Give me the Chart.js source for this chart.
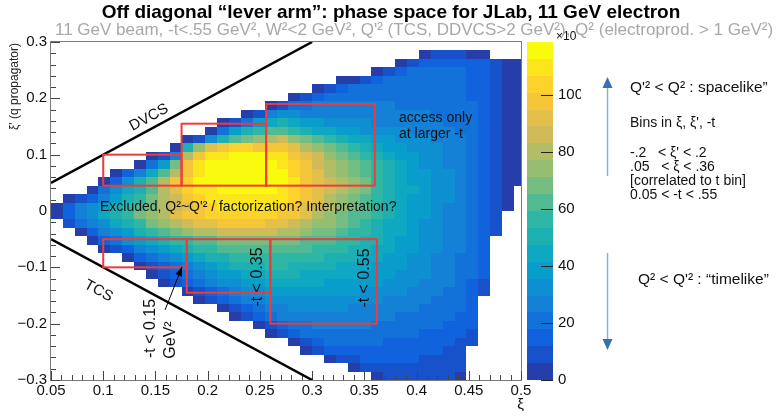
<!DOCTYPE html>
<html>
<head>
<meta charset="utf-8">
<script src="https://cdn.jsdelivr.net/npm/chart.js@4.4.1/dist/chart.umd.min.js"></script>
<style>
  html, body { margin: 0; padding: 0; background: #fff; }
  #wrap { width: 780px; height: 417px; }
</style>
</head>
<body>
<div id="wrap"><canvas id="phase" width="780" height="417"></canvas></div>
<script>
// histogram binning (xi along x, xi' along y, first row is the top one)
const xiStart = 0.05;
const xiStep = 0.5 / 44;
const xiPrimeTop = 0.3;
const xiPrimeStep = 0.015;

// counts per cell (x10 units), rows from xi' = 0.3 downwards, 0 = empty
const counts = [
  [0,0,0,0,0,0,0,0,0,0, 0,0,0,0,0,0,0,0,0,0, 0,0,0,0,0,0,0,0,0,0, 0,0,0,0,0,0,0,0,0,0],
  [0,0,0,0,0,0,0,0,0,0, 0,0,0,0,0,0,0,0,0,0, 0,0,0,0,0,0,0,0,0,0, 0,5,6,6,6,5,5,0,0,0],
  [0,0,0,0,0,0,0,0,0,0, 0,0,0,0,0,0,0,0,0,0, 0,0,0,0,0,0,0,0,0,5, 6,12,16,17,17,16,13,6,5,4],
  [0,0,0,0,0,0,0,0,0,0, 0,0,0,0,0,0,0,0,0,0, 0,0,0,0,0,0,0,5,6,14, 18,19,19,19,18,17,13,6,5,4],
  [0,0,0,0,0,0,0,0,0,0, 0,0,0,0,0,0,0,0,0,0, 0,0,0,0,5,5,6,14,18,20, 20,20,20,19,19,17,13,6,5,4],
  [0,0,0,0,0,0,0,0,0,0, 0,0,0,0,0,0,0,0,0,0, 0,0,5,6,14,18,20,21,21,21, 21,21,20,20,19,17,13,6,5,4],
  [0,0,0,0,0,0,0,0,0,0, 0,0,0,0,0,0,0,0,0,0, 5,6,15,19,21,22,22,22,22,22, 22,21,21,20,19,17,13,6,5,4],
  [0,0,0,0,0,0,0,0,0,0, 0,0,0,0,0,0,0,0,5,8, 18,23,24,25,25,25,24,24,24,23, 23,22,22,21,20,18,13,6,5,4],
  [0,0,0,0,0,0,0,0,0,0, 0,0,0,0,0,0,5,8,24,30, 30,29,28,28,28,27,27,26,26,25, 25,24,23,22,21,19,14,7,5,4],
  [0,0,0,0,0,0,0,0,0,0, 0,0,0,0,5,8,20,36,46,50, 44,40,36,34,32,31,30,29,28,27, 26,25,24,23,22,19,14,7,5,4],
  [0,0,0,0,0,0,0,0,0,0, 0,0,0,5,20,38,52,58,62,64, 58,52,46,42,38,36,34,32,31,30, 28,27,26,24,23,20,14,7,5,4],
  [0,0,0,0,0,0,0,0,0,0, 0,5,10,30,50,64,70,76,82,84, 76,68,60,54,48,45,42,38,36,33, 31,30,28,26,24,21,15,7,5,4],
  [0,0,0,0,0,0,0,0,0,0, 5,48,76,94,100,102,102,100,98,98, 90,82,74,66,60,55,50,45,41,37, 34,32,30,27,25,22,15,7,5,4],
  [0,0,0,0,0,0,0,0,5,6, 24,78,100,110,112,114,114,114,112,110, 100,92,84,76,68,62,57,51,46,41, 37,34,31,28,26,22,15,7,5,4],
  [0,0,0,0,0,0,0,5,20,40, 66,96,108,114,116,117,117,116,115,112, 104,96,88,80,72,66,60,54,48,43, 39,35,32,29,26,22,15,7,5,4],
  [0,0,0,0,0,5,12,24,46,64, 82,100,110,115,117,118,118,117,116,113, 106,98,90,83,76,70,64,57,50,45, 40,36,33,30,27,22,15,7,5,4],
  [0,0,0,0,5,16,34,50,64,80, 96,106,113,116,118,118,118,117,116,113, 107,100,92,85,78,72,66,59,52,46, 41,37,34,31,27,23,15,7,5,4],
  [0,0,0,5,18,30,42,52,64,78, 90,102,108,112,114,115,115,114,113,110, 105,99,92,85,78,72,66,59,53,47, 42,38,34,31,27,23,15,7,5,0],
  [0,5,6,16,28,40,50,58,68,78, 88,98,104,108,111,112,112,112,110,107, 102,96,89,83,76,70,64,58,52,46, 41,37,33,30,26,22,15,7,5,0],
  [5,14,24,32,40,48,56,62,70,78, 86,94,100,104,108,110,110,110,108,104, 98,92,86,80,74,68,62,56,50,45, 40,36,32,29,25,21,15,7,5,0],
  [5,16,24,34,42,50,58,66,74,82, 90,96,100,103,105,106,106,105,103,100, 95,89,83,77,71,65,60,55,49,44, 40,36,32,29,25,21,15,7,0,0],
  [0,6,18,26,34,42,50,58,66,72, 78,84,90,94,96,97,97,96,94,91, 87,82,77,72,67,62,57,52,47,43, 39,35,31,28,25,21,15,6,0,0],
  [0,0,5,16,24,32,40,48,55,62, 68,74,78,82,85,86,86,85,84,82, 78,74,70,66,62,58,54,50,46,42, 38,34,31,28,25,21,14,6,0,0],
  [0,0,0,5,14,22,30,36,42,48, 54,58,62,64,66,68,69,70,70,69, 67,65,62,60,57,54,51,48,44,41, 37,34,31,28,25,20,14,0,0,0],
  [0,0,0,0,5,8,16,24,30,36, 42,48,54,58,61,63,64,65,65,65, 63,61,59,57,54,51,48,45,42,39, 36,33,30,27,24,19,13,0,0,0],
  [0,0,0,0,0,0,5,12,18,24, 30,36,42,48,52,55,57,58,59,59, 58,57,55,53,51,48,46,43,40,37, 34,32,29,26,23,19,13,0,0,0],
  [0,0,0,0,0,0,0,5,10,16, 22,28,34,40,44,48,51,53,54,54, 53,52,50,49,47,45,43,41,38,36, 33,31,28,26,23,18,12,0,0,0],
  [0,0,0,0,0,0,0,0,5,10, 16,22,28,32,36,40,44,46,48,49, 48,47,46,45,44,42,41,39,37,35, 32,30,28,25,22,18,12,0,0,0],
  [0,0,0,0,0,0,0,0,0,5, 7,14,20,26,30,34,38,40,42,43, 43,42,42,41,40,39,38,36,34,32, 30,28,26,24,21,17,11,0,0,0],
  [0,0,0,0,0,0,0,0,0,0, 0,5,10,16,22,26,30,34,37,38, 39,39,38,38,37,36,35,34,32,30, 28,26,25,23,20,16,10,0,0,0],
  [0,0,0,0,0,0,0,0,0,0, 0,0,5,7,14,20,24,28,31,33, 34,34,34,33,33,32,31,30,29,27, 26,24,23,21,19,15,0,0,0,0],
  [0,0,0,0,0,0,0,0,0,0, 0,0,0,0,5,10,16,22,26,28, 30,30,30,30,30,29,29,28,27,25, 24,23,21,20,18,14,0,0,0,0],
  [0,0,0,0,0,0,0,0,0,0, 0,0,0,0,0,5,7,14,20,24, 26,27,27,27,27,26,26,25,24,23, 22,21,20,18,16,13,0,0,0,0],
  [0,0,0,0,0,0,0,0,0,0, 0,0,0,0,0,0,0,5,10,16, 20,23,24,25,25,24,24,23,22,21, 20,19,18,16,15,12,0,0,0,0],
  [0,0,0,0,0,0,0,0,0,0, 0,0,0,0,0,0,0,0,5,6, 14,18,20,21,21,21,21,20,20,19, 18,17,16,15,13,10,0,0,0,0],
  [0,0,0,0,0,0,0,0,0,0, 0,0,0,0,0,0,0,0,0,0, 5,10,16,18,18,18,18,18,17,17, 16,15,14,13,11,7,0,0,0,0],
  [0,0,0,0,0,0,0,0,0,0, 0,0,0,0,0,0,0,0,0,0, 0,5,6,12,15,16,16,16,15,15, 14,13,12,11,9,0,0,0,0,0],
  [0,0,0,0,0,0,0,0,0,0, 0,0,0,0,0,0,0,0,0,0, 0,0,0,5,6,11,13,13,13,13, 12,11,10,9,7,0,0,0,0,0],
  [0,0,0,0,0,0,0,0,0,0, 0,0,0,0,0,0,0,0,0,0, 0,0,0,0,0,5,6,10,11,11, 10,10,9,7,6,0,0,0,0,0],
  [0,0,0,0,0,0,0,0,0,0, 0,0,0,0,0,0,0,0,0,0, 0,0,0,0,0,0,0,5,7,8, 8,8,7,6,5,0,0,0,0,0]
];

const xTicks = [0.05, 0.1, 0.15, 0.2, 0.25, 0.3, 0.35, 0.4, 0.45, 0.5];
const xTickLabels = ['0.05', '0.1', '0.15', '0.2', '0.25', '0.3', '0.35', '0.4', '0.45', '0.5'];
const yTicks = [-0.3, -0.2, -0.1, 0, 0.1, 0.2, 0.3];
const yTickLabels = ['\u22120.3', '\u22120.2', '\u22120.1', '0', '0.1', '0.2', '0.3'];
const zTicks = [0, 20, 40, 60, 80, 100];
const zMax = 118.6;

// t-bin boxes [xiMin, xiMax, xi'Min, xi'Max]
const spacelikeBins = [[0.1, 0.175, 0.045, 0.1], [0.175, 0.256, 0.045, 0.155], [0.256, 0.36, 0.045, 0.19]];
const timelikeBins = [[0.1, 0.18, -0.1, -0.05], [0.18, 0.26, -0.145, -0.05], [0.26, 0.362, -0.2, -0.05]];
const dvcsLine = [[0.05, 0.05], [0.3, 0.3]];
const tcsLine = [[0.05, -0.05], [0.3, -0.3]];

const birdStops = [[53,42,135],[15,92,221],[20,129,214],[6,164,202],[46,183,164],[135,191,119],[209,187,89],[254,200,50],[249,251,14]];
function birdColor(t) {
  const s = Math.max(0, Math.min(1, t)) * 8;
  const i = Math.min(7, Math.floor(s));
  const f = s - i;
  const a = birdStops[i], b = birdStops[i + 1];
  return 'rgb(' + a.map((c, n) => Math.round(c + (b[n] - c) * f)).join(',') + ')';
}
function levelColor(v) {
  const lvl = Math.min(19, Math.floor(v / zMax * 20));
  return birdColor((lvl + 0.99) / 20);
}

const FONT = "'Liberation Sans', Arial, sans-serif";

function arrowHead(ctx, x0, y0, x1, y1, len, half) {
  const ang = Math.atan2(y1 - y0, x1 - x0);
  ctx.beginPath();
  ctx.moveTo(x1, y1);
  ctx.lineTo(x1 - len * Math.cos(ang) + half * Math.sin(ang), y1 - len * Math.sin(ang) - half * Math.cos(ang));
  ctx.lineTo(x1 - len * Math.cos(ang) - half * Math.sin(ang), y1 - len * Math.sin(ang) + half * Math.cos(ang));
  ctx.closePath();
  ctx.fill();
}

const heatmap = {
  id: 'heatmap',
  beforeDatasetsDraw(chart) {
    const { ctx, chartArea: a, scales: { x, y } } = chart;
    ctx.save();
    ctx.beginPath();
    ctx.rect(a.left, a.top, a.right - a.left, a.bottom - a.top);
    ctx.clip();
    counts.forEach((row, k) => {
      const y0 = Math.round(y.getPixelForValue(xiPrimeTop - k * xiPrimeStep));
      const y1 = Math.round(y.getPixelForValue(xiPrimeTop - (k + 1) * xiPrimeStep));
      row.forEach((v, j) => {
        if (!v) return;
        const x0 = Math.round(x.getPixelForValue(xiStart + j * xiStep));
        const x1 = Math.round(x.getPixelForValue(xiStart + (j + 1) * xiStep));
        ctx.fillStyle = levelColor(v);
        ctx.fillRect(x0, y0, x1 - x0, y1 - y0);
      });
    });
    ctx.restore();
  },
  afterDraw(chart) {
    const { ctx, chartArea: a, scales: { x, y } } = chart;
    const P = (u, v) => [x.getPixelForValue(u), y.getPixelForValue(v)];
    ctx.save();

    // frame
    ctx.strokeStyle = '#7a7a7a';
    ctx.lineWidth = 1;
    ctx.strokeRect(a.left - 0.5, a.top - 0.5, a.right - a.left + 1, a.bottom - a.top + 1);

    // ticks
    ctx.strokeStyle = '#444';
    ctx.beginPath();
    for (let i = 0; i <= 45; i++) {
      const xp = Math.round(x.getPixelForValue(0.05 + i * 0.01)) + 0.5;
      const len = i % 5 === 0 ? 9 : 5;
      ctx.moveTo(xp, a.bottom);
      ctx.lineTo(xp, a.bottom - len);
    }
    for (let i = 0; i <= 30; i++) {
      const yp = Math.round(y.getPixelForValue(-0.3 + i * 0.02)) + 0.5;
      const len = i % 5 === 0 ? 9 : 5;
      ctx.moveTo(a.left, yp);
      ctx.lineTo(a.left + len, yp);
    }
    ctx.stroke();

    // tick labels
    ctx.fillStyle = '#111';
    ctx.font = '15px ' + FONT;
    ctx.textAlign = 'center';
    ctx.textBaseline = 'top';
    xTicks.forEach((t, i) => ctx.fillText(xTickLabels[i], x.getPixelForValue(t), a.bottom + 3));
    ctx.textAlign = 'right';
    ctx.textBaseline = 'middle';
    yTicks.forEach((t, i) => ctx.fillText(yTickLabels[i], a.left - 4, y.getPixelForValue(t)));

    // axis titles
    ctx.font = '15px ' + FONT;
    ctx.textAlign = 'right';
    ctx.textBaseline = 'middle';
    ctx.fillText('\u03be', a.right + 3, a.bottom + 25);
    ctx.save();
    ctx.translate(15, a.top + 1);
    ctx.rotate(-Math.PI / 2);
    ctx.font = "12px 'Liberation Sans Narrow', " + FONT;
    ctx.fillStyle = '#222';
    ctx.textAlign = 'right';
    ctx.fillText("\u03be' (q propagator)", 0, 0);
    ctx.restore();

    // clipped drawing inside the frame
    ctx.save();
    ctx.beginPath();
    ctx.rect(a.left, a.top, a.right - a.left, a.bottom - a.top);
    ctx.clip();
    ctx.strokeStyle = '#000';
    ctx.lineWidth = 2.5;
    [dvcsLine, tcsLine].forEach(l => {
      ctx.beginPath();
      ctx.moveTo(...P(l[0][0], l[0][1]));
      ctx.lineTo(...P(l[1][0], l[1][1]));
      ctx.stroke();
    });
    ctx.restore();

    // t-bin boxes
    ctx.strokeStyle = '#ef3b3b';
    ctx.lineWidth = 2;
    spacelikeBins.concat(timelikeBins).forEach(b => {
      const [x0, y0] = P(b[0], b[3]);
      const [x1, y1] = P(b[1], b[2]);
      ctx.strokeRect(x0, y0, x1 - x0, y1 - y0);
    });

    // labels in the plot
    ctx.fillStyle = '#111';
    const ang = Math.atan2(P(0.3, 0.3)[1] - P(0.05, 0.05)[1], P(0.3, 0.3)[0] - P(0.05, 0.05)[0]);
    const rotText = (txt, u, v, rot, font) => {
      const [px, py] = P(u, v);
      ctx.save();
      ctx.translate(px, py);
      ctx.rotate(rot);
      ctx.font = font;
      ctx.textAlign = 'center';
      ctx.textBaseline = 'middle';
      ctx.fillText(txt, 0, 0);
      ctx.restore();
    };
    rotText('DVCS', 0.1438, 0.166, ang, '15px ' + FONT);
    rotText('TCS', 0.0955, -0.142, -ang, '15px ' + FONT);
    rotText('-t < 0.35', 0.2482, -0.1172, -Math.PI / 2, '16px ' + FONT);
    rotText('-t < 0.55', 0.3506, -0.119, -Math.PI / 2, '16px ' + FONT);
    rotText('-t < 0.15', 0.1457, -0.2086, -Math.PI / 2, '16px ' + FONT);
    rotText('GeV\u00b2', 0.1649, -0.229, -Math.PI / 2, '16px ' + FONT);

    ctx.font = '14px ' + FONT;
    ctx.textAlign = 'left';
    ctx.textBaseline = 'middle';
    let p = P(0.0969, 0.0071);
    ctx.fillText("Excluded, Q\u00b2~Q'\u00b2 / factorization? Interpretation?", p[0], p[1]);
    p = P(0.3832, 0.165);
    ctx.fillText('access only', p[0], p[1]);
    p = P(0.3832, 0.1367);
    ctx.fillText('at larger -t', p[0], p[1]);

    // arrow to the lowest t bin
    const [ax0, ay0] = P(0.1592, -0.1757);
    const [ax1, ay1] = P(0.1754, -0.0994);
    ctx.strokeStyle = '#000';
    ctx.lineWidth = 1;
    ctx.beginPath();
    ctx.moveTo(ax0, ay0);
    ctx.lineTo(ax1, ay1);
    ctx.stroke();
    ctx.fillStyle = '#000';
    arrowHead(ctx, ax0, ay0, ax1, ay1, 9, 3.5);

    // colour bar
    const cb = { left: 527, right: 553, top: a.top, bottom: a.bottom };
    const zy = v => cb.bottom - v / zMax * (cb.bottom - cb.top);
    for (let i = 0; i < 20; i++) {
      const v0 = i * zMax / 20, v1 = (i + 1) * zMax / 20;
      ctx.fillStyle = birdColor((i + 0.99) / 20);
      const yt = Math.round(zy(v1)), yb = Math.round(zy(v0));
      ctx.fillRect(cb.left, yt, cb.right - cb.left, yb - yt);
    }
    ctx.strokeStyle = '#222';
    ctx.lineWidth = 1;
    ctx.beginPath();
    zTicks.forEach(t => {
      const yp = Math.round(zy(t)) + 0.5;
      ctx.moveTo(cb.right - 12, yp);
      ctx.lineTo(cb.right, yp);
    });
    ctx.stroke();
    ctx.save();
    ctx.beginPath();
    ctx.rect(cb.right, 0, 28, 417);
    ctx.clip();
    ctx.fillStyle = '#111';
    ctx.font = '15px ' + FONT;
    ctx.textAlign = 'left';
    ctx.textBaseline = 'middle';
    zTicks.forEach(t => ctx.fillText(String(t), cb.right + 5, zy(t)));
    ctx.restore();
    ctx.fillStyle = '#111';
    ctx.font = '12px ' + FONT;
    ctx.textAlign = 'left';
    ctx.fillText('\u00d710', 556, 37);

    // title and subtitle
    ctx.textAlign = 'center';
    ctx.textBaseline = 'middle';
    ctx.fillStyle = '#000';
    ctx.font = "bold 19px 'Liberation Sans Narrow', " + FONT;
    ctx.fillText('Off diagonal \u201clever arm\u201d: phase space for JLab, 11 GeV electron', 391, 13);
    ctx.fillStyle = '#a8a8a8';
    ctx.font = "17px 'Liberation Sans Narrow', " + FONT;
    ctx.fillText("11 GeV beam, -t<.55 GeV\u00b2, W\u00b2<2 GeV\u00b2, Q'\u00b2 (TCS, DDVCS>2 GeV\u00b2), Q\u00b2 (electroprod. > 1 GeV\u00b2)", 414, 30);

    // right-hand notes
    ctx.fillStyle = '#111';
    ctx.textAlign = 'left';
    ctx.font = '15.5px ' + FONT;
    ctx.fillText("Q'\u00b2 < Q\u00b2 : spacelike\u201d", 630, 88);
    ctx.fillText("Q\u00b2 < Q'\u00b2 : \u201ctimelike\u201d", 638, 280);
    ctx.font = '14px ' + FONT;
    const notes = [
      ['Bins in \u03be, \u03be\', -t', 630, 123],
      ["-.2   < \u03be' < .2", 630, 153],
      ['.05   < \u03be < .36', 630, 167],
      ['[correlated to t bin]', 630, 181],
      ['0.05 < -t < .55', 630, 195]
    ];
    notes.forEach(n => ctx.fillText(n[0], n[1], n[2]));

    ctx.strokeStyle = '#8eaedb';
    ctx.lineWidth = 1.5;
    ctx.beginPath();
    ctx.moveTo(607.5, 176);
    ctx.lineTo(607.5, 86);
    ctx.moveTo(607.5, 253);
    ctx.lineTo(607.5, 341);
    ctx.stroke();
    ctx.fillStyle = '#3b6db7';
    arrowHead(ctx, 607.5, 100, 607.5, 77, 11, 5);
    arrowHead(ctx, 607.5, 330, 607.5, 350, 11, 5);
    ctx.restore();
  }
};

const chart = new Chart(document.getElementById('phase'), {
  type: 'scatter',
  data: { datasets: [{ data: [], pointRadius: 0 }] },
  options: {
    responsive: false,
    animation: false,
    layout: { padding: { left: 51, right: 259, top: 42, bottom: 37 } },
    plugins: { legend: { display: false }, tooltip: { enabled: false } },
    scales: {
      x: { type: 'linear', min: 0.05, max: 0.5, display: false },
      y: { type: 'linear', min: -0.3, max: 0.3, display: false }
    }
  },
  plugins: [heatmap]
});
</script>
</body>
</html>
